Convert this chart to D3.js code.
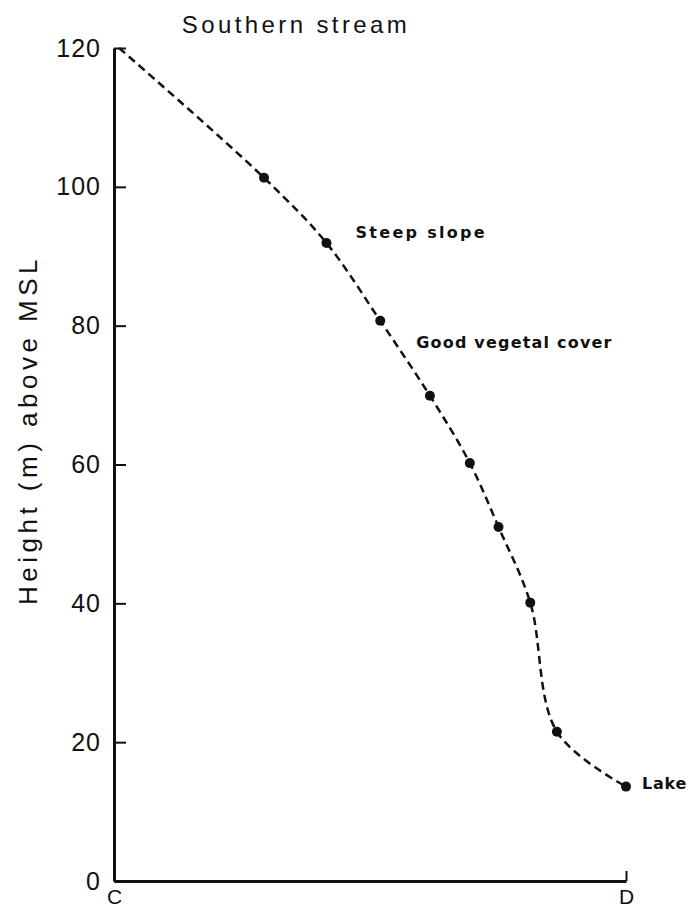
<!DOCTYPE html>
<html>
<head>
<meta charset="utf-8">
<script src="https://cdn.jsdelivr.net/npm/d3@7"></script>
<style>
  body { margin: 0; background: #fff; }
  svg { display: block; }
</style>
</head>
<body>
<svg id="chart"></svg>
<script>
// Long profile of the southern stream, from C (source) to D (lake).
// Distance along the stream (relative units, C = 0, D = 10)
const distance = [0.1, 2.93, 4.15, 5.20, 6.17, 6.95, 7.51, 8.13, 8.65, 10.0];
// Bed height (m above mean sea level)
const heightMSL = [120, 101.3, 91.9, 80.7, 69.9, 60.2, 51.0, 40.1, 21.5, 13.6];
// Surveyed stations carry a dot; the source point does not
const surveyed = [false, true, true, true, true, true, true, true, true, true];

const yTicks = [0, 20, 40, 60, 80, 100, 120];
const yTickLabels = ["0", "20", "40", "60", "80", "100", "120"];
const xTicks = [0, 10];
const xTickLabels = ["C", "D"];

const noteTexts = ["Steep slope", "Good vegetal cover", "Lake"];
const noteStations = [2, 3, 9];

const W = 693, H = 914;
const svg = d3.select("#chart").attr("width", W).attr("height", H);
svg.append("rect").attr("width", W).attr("height", H).attr("fill", "#fff");

const x = d3.scaleLinear().domain([0, 10]).range([114, 626]);
const y = d3.scaleLinear().domain([0, 120]).range([881, 48]);

const ink = "#111";
const numFont = "'Liberation Sans', Arial, sans-serif";
const noteFont = "'DejaVu Sans', sans-serif";

// Title
svg.append("text")
  .attr("x", 296).attr("y", 33)
  .attr("text-anchor", "middle")
  .attr("font-family", numFont)
  .attr("font-size", 24)
  .attr("letter-spacing", 3.4)
  .attr("fill", ink)
  .text("Southern stream");

// Y axis (ticks point inward)
const yAxisG = svg.append("g")
  .attr("transform", `translate(${x(0)},0)`)
  .call(d3.axisLeft(y)
    .tickValues(yTicks)
    .tickFormat((d, i) => yTickLabels[i])
    .tickSizeInner(-12)
    .tickSizeOuter(0)
    .tickPadding(13));
yAxisG.select(".domain").attr("stroke", ink).attr("stroke-width", 3);
yAxisG.selectAll(".tick line").attr("stroke", ink).attr("stroke-width", 2);
yAxisG.selectAll(".tick text")
  .attr("font-family", numFont)
  .attr("font-size", 25)
  .attr("letter-spacing", 1)
  .attr("fill", ink);

// X axis: C to D
const xAxisG = svg.append("g")
  .attr("transform", `translate(0,${y(0)})`)
  .call(d3.axisBottom(x)
    .tickValues(xTicks)
    .tickFormat((d, i) => xTickLabels[i])
    .tickSizeInner(-10)
    .tickSizeOuter(0)
    .tickPadding(8));
xAxisG.select(".domain").attr("stroke", ink).attr("stroke-width", 3);
xAxisG.selectAll(".tick line").attr("stroke", ink).attr("stroke-width", 2);
xAxisG.selectAll(".tick text")
  .attr("font-family", numFont)
  .attr("font-size", 21)
  .attr("fill", ink);

// Y axis title
svg.append("text")
  .attr("transform", "translate(37,430) rotate(-90)")
  .attr("text-anchor", "middle")
  .attr("font-family", numFont)
  .attr("font-size", 26)
  .attr("letter-spacing", 4.5)
  .attr("fill", ink)
  .text("Height (m) above MSL");

// Profile
const pts = distance.map((d, i) => ({ d, h: heightMSL[i], s: surveyed[i] }));
const line = d3.line()
  .x(p => x(p.d))
  .y(p => y(p.h))
  .curve(d3.curveCatmullRom.alpha(0.5));

svg.append("path")
  .datum(pts)
  .attr("d", line)
  .attr("fill", "none")
  .attr("stroke", ink)
  .attr("stroke-width", 2.5)
  .attr("stroke-dasharray", "8,5");

svg.selectAll("circle.station")
  .data(pts.filter(p => p.s))
  .join("circle")
  .attr("class", "station")
  .attr("cx", p => x(p.d))
  .attr("cy", p => y(p.h))
  .attr("r", 5)
  .attr("fill", ink);

// Notes beside stations
const noteOffsets = [[29, -5, 2.3], [36, 27, 1.2], [16, 2, 0.8]];
noteTexts.forEach((t, i) => {
  const p = pts[noteStations[i]];
  const [dx, dy, ls] = noteOffsets[i];
  svg.append("text")
    .attr("x", x(p.d) + dx)
    .attr("y", y(p.h) + dy)
    .attr("font-family", noteFont)
    .attr("font-weight", "bold")
    .attr("font-size", 16)
    .attr("letter-spacing", ls)
    .attr("fill", ink)
    .text(t);
});
</script>
</body>
</html>
